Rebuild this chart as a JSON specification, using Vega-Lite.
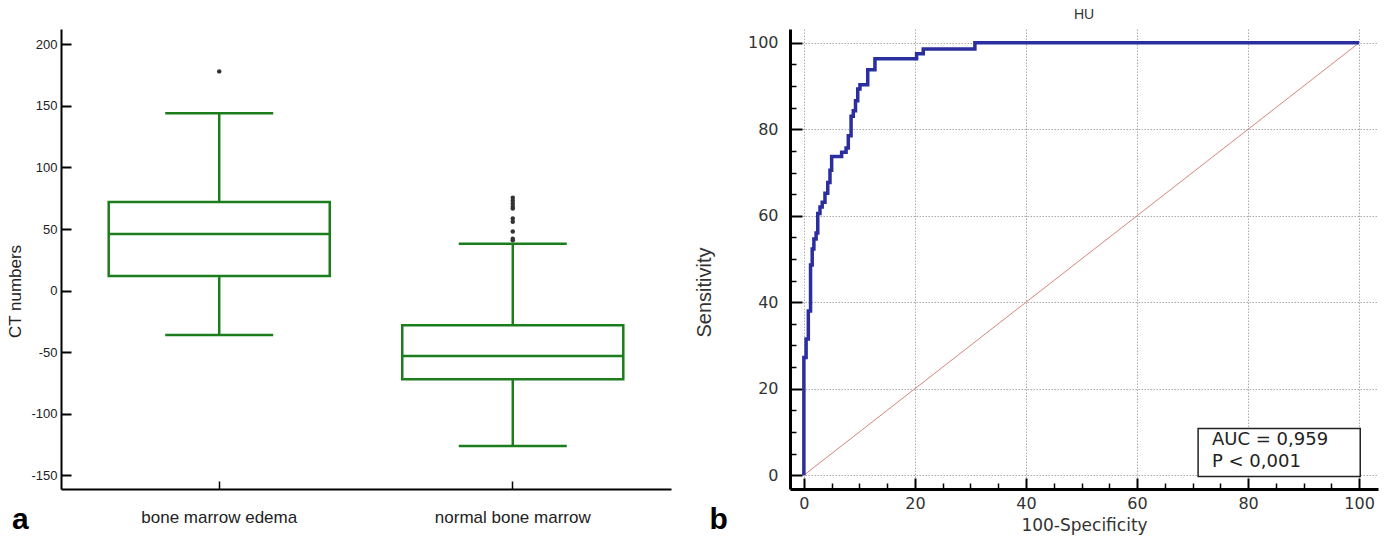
{
  "$schema": "https://vega.github.io/schema/vega-lite/v6.json",
  "background": "white",
  "padding": {"left": 6, "top": 8, "right": 5, "bottom": 5},
  "bounds": "flush",
  "spacing": 119,
  "config": {
    "view": {"stroke": null},
    "font": "Liberation Sans",
    "axis": {"labelFont": "Liberation Sans", "titleFont": "Liberation Sans", "titleFontWeight": "normal"}
  },
  "datasets": {
    "boxes": [
      {"group": "bone marrow edema", "lower": -36, "q1": 12, "median": 46, "q3": 72, "upper": 144},
      {"group": "normal bone marrow", "lower": -126, "q1": -72, "median": -53, "q3": -28, "upper": 38}
    ],
    "outliers": [
      {"group": "bone marrow edema", "value": 178},
      {"group": "normal bone marrow", "value": 75.5},
      {"group": "normal bone marrow", "value": 73},
      {"group": "normal bone marrow", "value": 70.6},
      {"group": "normal bone marrow", "value": 68.2},
      {"group": "normal bone marrow", "value": 66.6},
      {"group": "normal bone marrow", "value": 58.6},
      {"group": "normal bone marrow", "value": 56},
      {"group": "normal bone marrow", "value": 48},
      {"group": "normal bone marrow", "value": 42.2},
      {"group": "normal bone marrow", "value": 41}
    ],
    "roc": [
      {"fpr": 0, "tpr": 0},
      {"fpr": 0, "tpr": 27.2},
      {"fpr": 0.4, "tpr": 31.5},
      {"fpr": 0.8, "tpr": 38.0},
      {"fpr": 1.2, "tpr": 48.6},
      {"fpr": 1.5, "tpr": 52.3},
      {"fpr": 1.8, "tpr": 54.6},
      {"fpr": 2.2, "tpr": 56.0},
      {"fpr": 2.5, "tpr": 60.5},
      {"fpr": 2.9, "tpr": 62.0},
      {"fpr": 3.3, "tpr": 63.1},
      {"fpr": 3.8, "tpr": 65.2},
      {"fpr": 4.3, "tpr": 67.7},
      {"fpr": 4.7, "tpr": 70.5},
      {"fpr": 5.0, "tpr": 73.7},
      {"fpr": 6.8, "tpr": 74.7},
      {"fpr": 7.6, "tpr": 75.7},
      {"fpr": 8.0, "tpr": 78.5},
      {"fpr": 8.5, "tpr": 83.0},
      {"fpr": 8.9, "tpr": 84.3},
      {"fpr": 9.3, "tpr": 86.6},
      {"fpr": 9.7, "tpr": 89.3},
      {"fpr": 10.1, "tpr": 90.3},
      {"fpr": 11.5, "tpr": 93.8},
      {"fpr": 12.8, "tpr": 96.3},
      {"fpr": 20.3, "tpr": 97.5},
      {"fpr": 21.5, "tpr": 98.6},
      {"fpr": 30.8, "tpr": 100},
      {"fpr": 100, "tpr": 100}
    ],
    "chance": [
      {"fpr": 0, "tpr": 0},
      {"fpr": 100, "tpr": 100}
    ],
    "roc_stats": [
      {"auc": "AUC = 0,959", "p": "P < 0,001"}
    ],
    "panel_labels": [
      {"panel": "b"}
    ]
  },
  "hconcat": [
    {
      "width": 610,
      "height": 460,
      "title": {"text": "a", "orient": "bottom", "anchor": "start", "frame": "bounds", "fontSize": 30, "fontWeight": "bold", "color": "#000", "offset": -20, "dx": 5, "font": "Liberation Sans"},
      "layer": [
        {
          "data": {"name": "boxes"},
          "mark": {"type": "rule", "color": "#1b7d1b", "strokeWidth": 2.5},
          "encoding": {
            "x": {
              "field": "group", "type": "nominal", "sort": null,
              "scale": {"type": "band", "paddingInner": 0, "paddingOuter": 0.039},
              "axis": {"title": null, "labelAngle": 0, "labelFontSize": 17, "labelColor": "#222", "tickSize": -8, "tickWidth": 1.5, "tickColor": "#000", "domainColor": "#000", "domainWidth": 2, "labelPadding": 28}
            },
            "y": {
              "field": "lower", "type": "quantitative",
              "scale": {"domain": [-161, 212.4], "nice": false, "zero": false},
              "axis": {"title": "CT numbers", "titleFontSize": 17, "titleColor": "#222", "titlePadding": 6, "titleY": 262, "values": [-150, -100, -50, 0, 50, 100, 150, 200], "labelExpr": "'' + datum.value", "labelFontSize": 13, "labelColor": "#222", "tickSize": -10, "tickWidth": 2, "tickColor": "#000", "domainColor": "#000", "domainWidth": 2, "labelPadding": 14, "grid": false}
            },
            "y2": {"field": "upper"}
          }
        },
        {
          "data": {"name": "boxes"},
          "mark": {"type": "bar", "width": {"band": 0.753}, "fill": "white", "stroke": "#1b7d1b", "strokeWidth": 2.5},
          "encoding": {
            "x": {"field": "group", "type": "nominal", "sort": null, "scale": {"type": "band", "paddingInner": 0, "paddingOuter": 0.039}},
            "y": {"field": "q1", "type": "quantitative"},
            "y2": {"field": "q3"}
          }
        },
        {
          "data": {"name": "boxes"},
          "mark": {"type": "tick", "color": "#1b7d1b", "size": 221, "thickness": 2.5, "opacity": 1},
          "encoding": {
            "x": {"field": "group", "type": "nominal", "sort": null, "scale": {"type": "band", "paddingInner": 0, "paddingOuter": 0.039}},
            "y": {"field": "median", "type": "quantitative"}
          }
        },
        {
          "data": {"name": "boxes"},
          "mark": {"type": "tick", "color": "#1b7d1b", "size": 108, "thickness": 2.5, "opacity": 1},
          "encoding": {
            "x": {"field": "group", "type": "nominal", "sort": null, "scale": {"type": "band", "paddingInner": 0, "paddingOuter": 0.039}},
            "y": {"field": "lower", "type": "quantitative"}
          }
        },
        {
          "data": {"name": "boxes"},
          "mark": {"type": "tick", "color": "#1b7d1b", "size": 108, "thickness": 2.5, "opacity": 1},
          "encoding": {
            "x": {"field": "group", "type": "nominal", "sort": null, "scale": {"type": "band", "paddingInner": 0, "paddingOuter": 0.039}},
            "y": {"field": "upper", "type": "quantitative"}
          }
        },
        {
          "data": {"name": "outliers"},
          "mark": {"type": "circle", "color": "#333", "size": 20, "opacity": 1},
          "encoding": {
            "x": {"field": "group", "type": "nominal", "sort": null, "scale": {"type": "band", "paddingInner": 0, "paddingOuter": 0.039}},
            "y": {"field": "value", "type": "quantitative"}
          }
        }
      ]
    },
    {
      "width": 588,
      "height": 460,
      "title": {"text": "HU", "fontSize": 14, "fontWeight": "normal", "color": "#333", "offset": 7, "font": "Liberation Sans"},
      "resolve": {"axis": {"x": "independent", "y": "independent"}},
      "layer": [
        {
          "data": {"name": "chance"},
          "mark": {"type": "line", "color": "#d4867e", "strokeWidth": 1},
          "encoding": {
            "x": {
              "field": "fpr", "type": "quantitative",
              "scale": {"domain": [-2.5, 103.4], "nice": false, "zero": false},
              "axis": {"orient": "bottom", "title": null, "values": [5, 10, 15, 25, 30, 35, 45, 50, 55, 65, 70, 75, 85, 90, 95], "labels": false, "domain": false, "grid": false, "tickSize": -6, "tickWidth": 1.5, "tickColor": "#000"}
            },
            "y": {
              "field": "tpr", "type": "quantitative",
              "scale": {"domain": [-3.2, 103.2], "nice": false, "zero": false},
              "axis": {"orient": "left", "title": null, "values": [5, 10, 15, 25, 30, 35, 45, 50, 55, 65, 70, 75, 85, 90, 95], "labels": false, "domain": false, "grid": false, "tickSize": -6, "tickWidth": 1.5, "tickColor": "#000"}
            }
          }
        },
        {
          "data": {"name": "roc"},
          "mark": {"type": "line", "interpolate": "step-after", "color": "#2a2e9e", "strokeWidth": 3.5},
          "encoding": {
            "x": {
              "field": "fpr", "type": "quantitative",
              "scale": {"domain": [-2.5, 103.4], "nice": false, "zero": false},
              "axis": {"orient": "bottom", "title": "100-Specificity", "titleFontSize": 17, "titleColor": "#333", "titlePadding": 6, "titleFont": "DejaVu Sans", "values": [0, 20, 40, 60, 80, 100], "labelFont": "DejaVu Sans", "labelFontSize": 16, "labelColor": "#333", "labelPadding": 17, "tickSize": -11, "tickWidth": 2, "tickColor": "#000", "domainColor": "#000", "domainWidth": 3, "grid": true, "gridColor": "#aaa", "gridDash": [1.5, 1.5], "gridWidth": 1}
            },
            "y": {
              "field": "tpr", "type": "quantitative",
              "scale": {"domain": [-3.2, 103.2], "nice": false, "zero": false},
              "axis": {"orient": "left", "title": "Sensitivity", "titleFontSize": 20, "titleColor": "#333", "titlePadding": 33, "titleY": 263, "values": [0, 20, 40, 60, 80, 100], "labelFont": "DejaVu Sans", "labelFontSize": 16, "labelColor": "#333", "labelPadding": 24, "tickSize": -12, "tickWidth": 2, "tickColor": "#000", "domainColor": "#000", "domainWidth": 3, "grid": true, "gridColor": "#aaa", "gridDash": [1.5, 1.5], "gridWidth": 1}
            },
            "order": [{"field": "fpr"}, {"field": "tpr"}]
          }
        },
        {
          "data": {"name": "roc_stats"},
          "mark": {"type": "rect", "fill": "white", "stroke": "#222", "strokeWidth": 1.5},
          "encoding": {
            "x": {"datum": 71, "type": "quantitative", "axis": null},
            "x2": {"datum": 100.2},
            "y": {"datum": -0.3, "type": "quantitative", "axis": null},
            "y2": {"datum": 10.8}
          }
        },
        {
          "data": {"name": "roc_stats"},
          "mark": {"type": "text", "font": "DejaVu Sans", "fontSize": 18, "color": "#222", "align": "left", "baseline": "middle"},
          "encoding": {
            "x": {"datum": 73.5, "type": "quantitative", "axis": null},
            "y": {"datum": 8.1, "type": "quantitative", "axis": null},
            "text": {"field": "auc"}
          }
        },
        {
          "data": {"name": "roc_stats"},
          "mark": {"type": "text", "font": "DejaVu Sans", "fontSize": 18, "color": "#222", "align": "left", "baseline": "middle"},
          "encoding": {
            "x": {"datum": 73.5, "type": "quantitative", "axis": null},
            "y": {"datum": 3.05, "type": "quantitative", "axis": null},
            "text": {"field": "p"}
          }
        },
        {
          "data": {"name": "panel_labels"},
          "mark": {"type": "text", "font": "Liberation Sans", "fontSize": 30, "fontWeight": "bold", "color": "#000", "align": "left", "baseline": "alphabetic"},
          "encoding": {
            "x": {"datum": -17, "type": "quantitative", "axis": null},
            "y": {"datum": -12.4, "type": "quantitative", "axis": null},
            "text": {"field": "panel"}
          }
        }
      ]
    }
  ]
}
